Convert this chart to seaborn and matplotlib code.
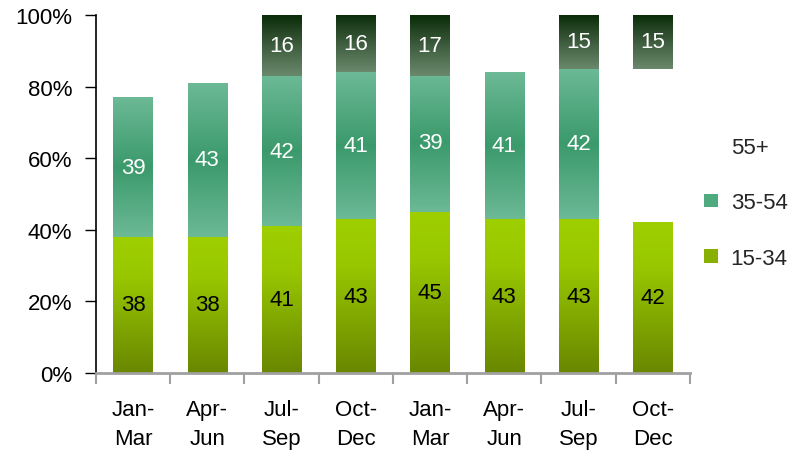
import numpy as np
import matplotlib
matplotlib.use("Agg")
import matplotlib.pyplot as plt
import seaborn as sns
from matplotlib.colors import LinearSegmentedColormap
from matplotlib.patches import Patch
from matplotlib.ticker import FixedLocator

# Quarterly share of each age band (%)
periods = ["Jan-\nMar", "Apr-\nJun", "Jul-\nSep", "Oct-\nDec",
           "Jan-\nMar", "Apr-\nJun", "Jul-\nSep", "Oct-\nDec"]
age_15_34 = [38, 38, 41, 43, 45, 43, 43, 42]
age_35_54 = [39, 43, 42, 41, 39, 41, 42, None]
age_55_plus = [None, None, 16, 16, 17, None, 15, 15]
y_ticks = [0, 20, 40, 60, 80, 100]

# vertical gradients, listed bottom -> top
cmap_young = LinearSegmentedColormap.from_list(
    "young", [(0.0, "#698700"), (0.7, "#98c700"), (1.0, "#9ecf00")])
cmap_mid = LinearSegmentedColormap.from_list(
    "mid", [(0.0, "#6cb996"), (0.5, "#3b9a6c"), (1.0, "#6cb996")])
cmap_old = LinearSegmentedColormap.from_list(
    "old", [(0.0, "#6a886b"), (0.5, "#3e5c3e"), (1.0, "#0a2c08")])

FS = 16

sns.set_theme(style="white")
plt.rcParams["font.family"] = ["Liberation Sans", "DejaVu Sans"]

fig = plt.figure(figsize=(8.04, 4.52), dpi=100)
ax = fig.add_axes([96 / 804, 1 - 374 / 452, (690 - 96) / 804, (374 - 16) / 452])

pos = list(range(len(periods)))
layers = [
    ("15-34", age_15_34, cmap_young, "black"),
    ("35-54", age_35_54, cmap_mid, "white"),
    ("55+", age_55_plus, cmap_old, "white"),
]
grad = np.linspace(0, 1, 256).reshape(-1, 1)

for name, vals, cmap, txt_color in layers:
    yvals = [np.nan if v is None else v for v in vals]
    n_before = len(ax.patches)
    sns.barplot(x=pos, y=yvals, order=pos, width=0.53, color="#888888",
                errorbar=None, ax=ax)
    for p in ax.patches[n_before:]:
        i = int(round(p.get_x() + p.get_width() / 2))
        v = vals[i]
        if name == "15-34":
            bottom, top = 0, v
        elif name == "35-54":
            bottom, top = age_15_34[i], age_15_34[i] + v
        else:
            # oldest band sits against the 100% line, closing onto the stack
            top = 100
            bottom = 100 - v
            if age_35_54[i] is not None:
                bottom = min(bottom, age_15_34[i] + age_35_54[i])
        p.set_y(bottom)
        p.set_height(top - bottom)
        p.set_facecolor("none")
        p.set_edgecolor("none")
        x0 = p.get_x()
        ax.imshow(grad, extent=[x0, x0 + p.get_width(), bottom, top],
                  origin="lower", cmap=cmap, aspect="auto", zorder=2,
                  interpolation="bicubic")
        ax.text(x0 + p.get_width() / 2, (bottom + top) / 2, f"{v}",
                ha="center", va="center", fontsize=FS, color=txt_color,
                zorder=3)

ax.set_xlim(-0.5, len(periods) - 0.5)
ax.set_ylim(0, 100)
ax.set_xlabel("")
ax.set_ylabel("")

ax.set_yticks(y_ticks)
ax.set_yticklabels([f"{t}%" for t in y_ticks], fontsize=FS)
ax.tick_params(axis="y", left=True, direction="out", length=8, width=1,
               color="black", pad=9, labelcolor="black")

ax.set_xticks(pos)
ax.set_xticklabels(periods, fontsize=FS, linespacing=1.45)
ax.xaxis.set_minor_locator(FixedLocator(np.arange(-0.5, len(periods), 1.0)))
ax.tick_params(axis="x", which="major", bottom=True, length=0, pad=19,
               labelcolor="black")
ax.tick_params(axis="x", which="minor", bottom=True, direction="out",
               length=8, width=1.5, color="#a0a0a0")

sns.despine(ax=ax, top=True, right=True)
ax.spines["left"].set_color("black")
ax.spines["left"].set_linewidth(1.2)
ax.spines["bottom"].set_color("#a0a0a0")
ax.spines["bottom"].set_linewidth(2)
ax.spines["bottom"].set_zorder(4)

handles = [Patch(facecolor="none", edgecolor="none", label="55+"),
           Patch(facecolor="#4faa80", edgecolor="none", label="35-54"),
           Patch(facecolor="#87b000", edgecolor="none", label="15-34")]
fig.legend(handles=handles, loc="upper left",
           bbox_to_anchor=(704 / 804, 1 - 138 / 452), frameon=False,
           fontsize=FS, handlelength=0.65, handleheight=0.55,
           handletextpad=0.55, labelspacing=1.55, borderpad=0,
           borderaxespad=0)

fig.savefig("out.png", dpi=100, facecolor="white")
